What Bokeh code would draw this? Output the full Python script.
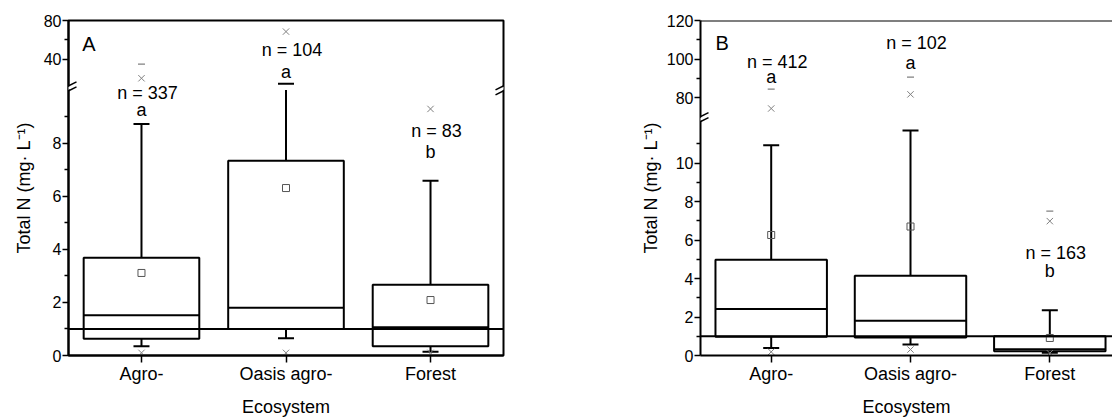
from bokeh.plotting import figure
from bokeh.layouts import row
from bokeh.models import FixedTicker, Range1d, Span, Label, PolyAnnotation, ColumnDataSource
from bokeh.core.properties import value
from bokeh.embed import file_html
from bokeh.resources import INLINE

FONT = "Liberation Sans"

# ---------------- data ----------------
categories = ["Agro-", "Oasis agro-", "Forest"]
x_label = "Ecosystem"
y_label = "Total N (mg\u00b7 L\u207b\u00b9)"
reference_level = 1.0

# Panel A
a_q1 = [0.63, 1.00, 0.35]
a_median = [1.52, 1.80, 1.06]
a_q3 = [3.68, 7.34, 2.67]
a_mean = [3.11, 6.31, 2.09]
a_whisker_low = [0.35, 0.65, 0.14]
a_whisker_high = [8.72, 14.5, 6.58]
a_min = [0.10, 0.10, 0.10]
a_max = [20.1, 68.5, 9.29]
a_p99_cat = [1]
a_p99 = [34.8]
a_n = [337, 104, 83]
a_letters = ["a", "a", "b"]
a_n_label_at = [9.60, 41.6, 8.16]
a_letter_at = [8.95, 18.4, 7.37]

# Panel B
b_q1 = [0.98, 0.93, 0.22]
b_median = [2.42, 1.80, 0.33]
b_q3 = [4.97, 4.14, 1.00]
b_mean = [6.26, 6.70, 0.91]
b_whisker_low = [0.39, 0.57, 0.14]
b_whisker_high = [10.92, 11.69, 2.35]
b_min = [0.19, 0.31, 0.12]
b_max = [74.5, 81.8, 6.98]
b_p99_cat = [1, 2, 3]
b_p99 = [84.5, 90.7, 7.50]
b_n = [412, 102, 163]
b_letters = ["a", "a", "b"]
b_n_label_at = [94.2, 104.1, 4.90]
b_letter_at = [86.9, 93.8, 3.95]

# broken y axes: lower and upper value segments, ticks
a_lower_segment = [0, 10]
a_upper_segment = [10, 80]
a_tick_major = [0, 2, 4, 6, 8, 40, 80]
a_tick_minor = [1, 3, 5, 7, 9, 60]
b_lower_segment = [0, 12]
b_upper_segment = [70, 120]
b_tick_major = [0, 2, 4, 6, 8, 10, 80, 100, 120]
b_tick_minor = [1, 3, 5, 7, 9, 11, 90, 110]

# ---------------- layout ----------------
FRAME_H = 335
MB_TOP = 20
MB_BOTTOM = 62
TEXT_FIX = 8   # baseline correction (px, upward)


def seg_scale(lower, upper, lower_ppu, upper_start):
    up_ppu = (FRAME_H - upper_start) / (upper[1] - upper[0])

    def f(v):
        if v <= lower[1]:
            return v * lower_ppu
        return upper_start + (v - upper[0]) * up_ppu
    return f


def build_panel(cfg, d):
    f = cfg["scale"]
    x0, x1 = cfg["x_range"]
    sx = cfg["frame_w"] / (x1 - x0)
    p = figure(frame_width=cfg["frame_w"], frame_height=FRAME_H,
               x_range=Range1d(x0, x1), y_range=Range1d(0, FRAME_H),
               output_backend="svg", toolbar_location=None,
               min_border_left=cfg["mb_left"], min_border_right=cfg["mb_right"],
               min_border_top=MB_TOP, min_border_bottom=MB_BOTTOM)
    p.grid.visible = False
    p.background_fill_color = "white"
    p.border_fill_color = "white"
    if cfg["outline"]:
        p.outline_line_color = "black"
        p.outline_line_width = 2
    else:
        p.outline_line_color = None
        p.add_layout(Span(location=FRAME_H, dimension="width", line_color="black", line_width=2))

    # y axis
    yt = [round(f(t), 4) for t in cfg["major"]]
    ym = [round(f(t), 4) for t in cfg["minor"]]
    ya = p.yaxis[0]
    ya.ticker = FixedTicker(ticks=yt, minor_ticks=ym)
    ya.major_label_overrides = {round(f(t), 4): str(t) for t in cfg["major"]}
    ya.axis_line_width = 2
    ya.major_tick_line_width = 1.5
    ya.minor_tick_line_width = 1.5
    ya.major_tick_out = 6
    ya.major_tick_in = 0
    ya.minor_tick_out = 4
    ya.minor_tick_in = 0
    ya.major_label_standoff = 1
    ya.major_label_text_font = FONT
    ya.major_label_text_font_size = "16px"
    ya.major_label_text_color = "black"
    ya.axis_label = y_label
    ya.axis_label_text_font = FONT
    ya.axis_label_text_font_size = "18px"
    ya.axis_label_text_font_style = "normal"
    ya.axis_label_text_color = "black"
    ya.axis_label_standoff = cfg["ylabel_standoff"]

    # x axis
    xa = p.xaxis[0]
    xa.ticker = FixedTicker(ticks=[1, 2, 3], minor_ticks=[])
    xa.major_label_overrides = {i + 1: c for i, c in enumerate(categories)}
    xa.axis_line_width = 2
    xa.major_tick_line_width = 1.5
    xa.major_tick_out = 7
    xa.major_tick_in = 0
    xa.major_label_standoff = 1
    xa.major_label_text_font = FONT
    xa.major_label_text_font_size = "18px"
    xa.major_label_text_color = "black"
    xa.axis_label = x_label
    xa.axis_label_text_font = FONT
    xa.axis_label_text_font_size = "18px"
    xa.axis_label_text_font_style = "normal"
    xa.axis_label_text_color = "black"
    xa.axis_label_standoff = 10

    xs = [1, 2, 3]
    hw = 0.4
    cap = 8 / sx
    lower_top = cfg["lower_top"]
    src = ColumnDataSource(dict(
        x=xs,
        left=[x - hw for x in xs], right=[x + hw for x in xs],
        q1=[f(v) for v in d["q1"]], q3=[f(v) for v in d["q3"]],
        med=[f(v) for v in d["median"]],
        wl=[f(v) for v in d["wlo"]],
        wh=[f(v) for v in d["whi"]],
        wh_line=[f(min(v, lower_top)) for v in d["whi"]],
        cl=[x - cap for x in xs], cr=[x + cap for x in xs],
        mean=[f(v) for v in d["mean"]],
        vmin=[f(v) for v in d["min"]], vmax=[f(v) for v in d["max"]],
    ))
    p.quad(left="left", right="right", bottom="q1", top="q3", source=src,
           fill_color=None, line_color="black", line_width=2)
    p.segment(x0="left", x1="right", y0="med", y1="med", source=src, line_color="black", line_width=2)
    p.segment(x0="x", x1="x", y0="q3", y1="wh_line", source=src, line_color="black", line_width=2)
    p.segment(x0="x", x1="x", y0="q1", y1="wl", source=src, line_color="black", line_width=2)
    p.segment(x0="cl", x1="cr", y0="wh", y1="wh", source=src, line_color="black", line_width=2)
    p.segment(x0="cl", x1="cr", y0="wl", y1="wl", source=src, line_color="black", line_width=2)
    p.scatter(x="x", y="mean", source=src, marker="square", size=7,
              fill_color=None, line_color="#555555", line_width=1)
    p.scatter(x="x", y="vmax", source=src, marker="x", size=9, line_color="#808080", line_width=1)
    p.scatter(x="x", y="vmin", source=src, marker="x", size=9, line_color="#808080", line_width=1)
    p.scatter(x=d["p99_cat"], y=[f(v) for v in d["p99"]], marker="dash", size=7,
              line_color="#808080", line_width=1.2)

    p.text(x=xs, y=[f(v) + TEXT_FIX for v in d["n_at"]], text=[f"n = {n}" for n in d["n"]],
           x_offset=6, text_font=value(FONT), text_font_size=value("18px"),
           text_align="center", text_baseline="alphabetic", text_color="black")
    p.text(x=xs, y=[f(v) + TEXT_FIX for v in d["letter_at"]], text=d["letters"],
           text_font=value(FONT), text_font_size=value("18px"),
           text_align="center", text_baseline="alphabetic", text_color="black")

    p.add_layout(Span(location=f(reference_level), dimension="width",
                      line_color="black", line_width=2))

    # panel letter
    p.add_layout(Label(x=x0 + cfg["letter_dx"] / sx, y=cfg["letter_y"] + TEXT_FIX, text=cfg["letter"],
                       text_font=FONT, text_font_size="20px", text_align="left",
                       text_baseline="alphabetic", text_color="black"))

    # axis break marks
    by = cfg["break_px"]
    dxd = 8 / sx
    for bx in cfg["break_x"]:
        p.add_layout(PolyAnnotation(xs=[bx - dxd, bx + dxd, bx + dxd, bx - dxd],
                                    ys=[by - 5.5, by + 2.5, by + 5.5, by - 2.5],
                                    fill_color="white", fill_alpha=1, line_color=None))
        for k in (-2.5, 2.5):
            p.add_layout(PolyAnnotation(xs=[bx - dxd, bx + dxd], ys=[by + k - 4, by + k + 4],
                                        fill_alpha=0, line_color="black", line_alpha=1,
                                        line_width=1.5))
    return p


cfg_a = dict(scale=seg_scale(a_lower_segment, a_upper_segment, 26.54, 267.5),
             lower_top=a_lower_segment[1], x_range=(0.495, 3.505), frame_w=435,
             mb_left=68, mb_right=10, outline=True,
             major=a_tick_major, minor=a_tick_minor,
             letter="A", letter_dx=13.7, letter_y=303.8, ylabel_standoff=7,
             break_px=267.2, break_x=[0.495, 3.505])
data_a = dict(q1=a_q1, q3=a_q3, median=a_median, wlo=a_whisker_low, whi=a_whisker_high,
              mean=a_mean, min=a_min, max=a_max, p99_cat=a_p99_cat, p99=a_p99,
              n=a_n, letters=a_letters, n_at=a_n_label_at, letter_at=a_letter_at)

cfg_b = dict(scale=seg_scale(b_lower_segment, b_upper_segment, 19.25, 238.3),
             lower_top=b_lower_segment[1], x_range=(0.4925, 3.450), frame_w=412,
             mb_left=187, mb_right=0, outline=False,
             major=b_tick_major, minor=b_tick_minor,
             letter="B", letter_dx=15, letter_y=304.3, ylabel_standoff=3,
             break_px=236.3, break_x=[0.4925])
data_b = dict(q1=b_q1, q3=b_q3, median=b_median, wlo=b_whisker_low, whi=b_whisker_high,
              mean=b_mean, min=b_min, max=b_max, p99_cat=b_p99_cat, p99=b_p99,
              n=b_n, letters=b_letters, n_at=b_n_label_at, letter_at=b_letter_at)

pa = build_panel(cfg_a, data_a)
pb = build_panel(cfg_b, data_b)
p = row(pa, pb)

open("out.html", "w").write(file_html(p, INLINE))
